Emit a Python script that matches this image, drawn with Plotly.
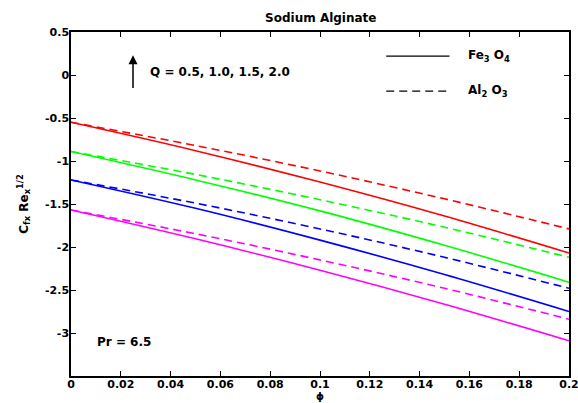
import plotly.graph_objects as go

# Volume fraction of nanoparticles
phi = [0.0, 0.05, 0.1, 0.15, 0.2]

# Skin friction C_fx Re_x^(1/2) for Q = 0.5, 1.0, 1.5, 2.0
fe3o4_q05 = [-0.55, -0.88, -1.245, -1.64, -2.07]
fe3o4_q10 = [-0.89, -1.22, -1.58, -1.98, -2.41]
fe3o4_q15 = [-1.22, -1.55, -1.92, -2.32, -2.75]
fe3o4_q20 = [-1.57, -1.905, -2.27, -2.665, -3.09]

al2o3_q05 = [-0.55, -0.82, -1.116, -1.44, -1.79]
al2o3_q10 = [-0.89, -1.156, -1.45, -1.77, -2.12]
al2o3_q15 = [-1.22, -1.49, -1.79, -2.12, -2.48]
al2o3_q20 = [-1.57, -1.846, -2.15, -2.48, -2.84]

colors = ["#FF0000", "#00FF00", "#0000FF", "#FF00FF"]
fe3o4 = [fe3o4_q05, fe3o4_q10, fe3o4_q15, fe3o4_q20]
al2o3 = [al2o3_q05, al2o3_q10, al2o3_q15, al2o3_q20]

x_ticks = [0, 0.02, 0.04, 0.06, 0.08, 0.1, 0.12, 0.14, 0.16, 0.18, 0.2]
x_labels = ["0", "0.02", "0.04", "0.06", "0.08", "0.1", "0.12", "0.14", "0.16", "0.18", "0.2"]
y_ticks = [0.5, 0, -0.5, -1, -1.5, -2, -2.5, -3, -3.5]
y_labels = ["0.5", "0", "-0.5", "-1", "-1.5", "-2", "-2.5", "-3", ""]

legend_names = ["<b>Fe<sub>3</sub> O<sub>4</sub></b>", "<b>Al<sub>2</sub> O<sub>3</sub></b>"]

FONT = "DejaVu Sans, Verdana, sans-serif"
DASH = "8px,5px"

fig = go.Figure()

for c, ys in zip(colors, fe3o4):
    fig.add_trace(go.Scatter(x=phi, y=ys, mode="lines", showlegend=False,
                             line=dict(color=c, width=1.6, shape="spline")))
for c, ys in zip(colors, al2o3):
    fig.add_trace(go.Scatter(x=phi, y=ys, mode="lines", showlegend=False,
                             line=dict(color=c, width=1.6, dash=DASH, shape="spline")))

axis_common = dict(
    showline=True, linecolor="black", linewidth=1.5, mirror="ticks",
    ticks="inside", ticklen=5, tickwidth=1.2, tickcolor="black",
    showgrid=False, zeroline=False, automargin=False, ticklabeloverflow="allow",
    tickfont=dict(family=FONT, size=11, color="black", weight="bold"),
)

fig.update_layout(
    width=578, height=403,
    margin=dict(l=71, r=9, t=32, b=27),
    paper_bgcolor="white", plot_bgcolor="white",
    font=dict(family=FONT, color="black"),
    showlegend=False,
    title=dict(text="<b>Sodium Alginate</b>", x=0.555, xanchor="center", y=0.957, yanchor="middle",
               font=dict(family=FONT, size=12, color="black")),
    xaxis=dict(range=[0, 0.2], tickvals=x_ticks, ticktext=x_labels, ticklabelstandoff=-3,
               **axis_common),
    yaxis=dict(range=[-3.5, 0.5], tickvals=y_ticks, ticktext=y_labels, ticklabelstandoff=-2,
               title=dict(text="<b>C<sub>fx</sub> Re<sub>x</sub><sup>1/2</sup></b>", standoff=14,
                          font=dict(family=FONT, size=12)),
               **axis_common),
)

# x-axis label, tucked under the tick labels
fig.add_annotation(x=0.5, y=-0.0785, xref="paper", yref="paper", xanchor="center", yanchor="bottom",
                   showarrow=False, borderpad=0, text="<b>ϕ</b>",
                   font=dict(family=FONT, size=10, color="black"))

# Key for the two nanoparticles (solid: Fe3O4, dashed: Al2O3)
for name, dash, yk in zip(legend_names, ["solid", DASH], [0.930, 0.828]):
    fig.add_shape(type="line", xref="paper", yref="paper", x0=0.633, x1=0.760, y0=yk, y1=yk,
                  line=dict(color="black", width=1.2, dash=dash))
    fig.add_annotation(x=0.793, y=yk, xref="paper", yref="paper", xanchor="left", yanchor="middle",
                       showarrow=False, text=name, font=dict(family=FONT, size=12, color="black"))

fig.add_annotation(x=0.0249, y=0.23, ax=0.0249, ay=-0.17, xref="x", yref="y", axref="x", ayref="y",
                   showarrow=True, arrowhead=2, arrowsize=1.2, arrowwidth=1.5, arrowcolor="black", text="")
fig.add_annotation(x=0.031, y=0.035, xref="x", yref="y", xanchor="left", showarrow=False,
                   text="<b>Q = 0.5, 1.0, 1.5, 2.0</b>", font=dict(family=FONT, size=12, color="black"))
fig.add_annotation(x=0.0098, y=-3.11, xref="x", yref="y", xanchor="left", showarrow=False,
                   text="<b>Pr = 6.5</b>", font=dict(family=FONT, size=12, color="black"))

fig.write_html("out.html")
